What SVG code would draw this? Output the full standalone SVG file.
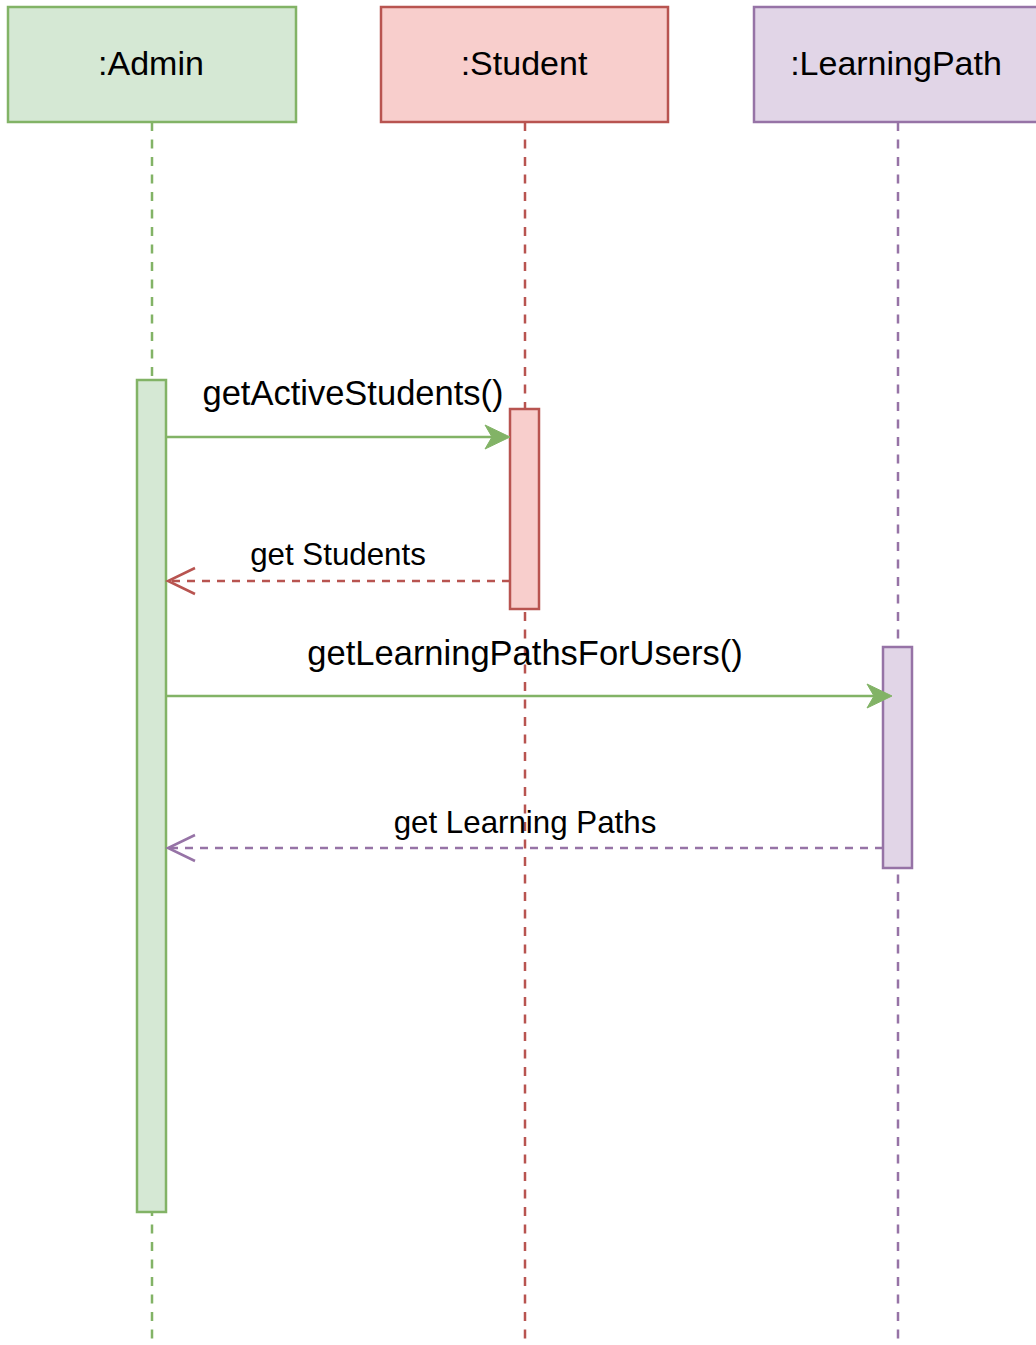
<svg xmlns="http://www.w3.org/2000/svg" width="1036" height="1345" viewBox="0 0 1036 1345">
<style>
text{font-family:"Liberation Sans",Arial,Helvetica,sans-serif;fill:#000;text-anchor:middle}
.hd{font-size:34px}
.lb{font-size:34.5px}
.rt{font-size:31.3px}
.life{fill:none;stroke-width:2.5;stroke-dasharray:9 8.5}
.g{stroke:#82b366}
.r{stroke:#b85450}
.p{stroke:#9673a6}
.gf{fill:#d5e8d4}
.rf{fill:#f8cecc}
.pf{fill:#e1d5e7}
.box{stroke-width:2.5}
.msg{fill:none;stroke-width:2.5}
.ret{fill:none;stroke-width:2.5;stroke-dasharray:8 7}
</style>
<rect width="1036" height="1345" fill="#fff"/>
<g id="lifelines">
<line class="life g" x1="152" y1="122" x2="152" y2="1345"/>
<line class="life r" x1="525" y1="122" x2="525" y2="1345"/>
<line class="life p" x1="898" y1="122" x2="898" y2="1345"/>
</g>
<g id="admin">
<rect class="box gf g" x="8" y="7" width="288" height="115"/>
<text class="hd" x="151" y="75">:Admin</text>
</g>
<g id="student">
<rect class="box rf r" x="381" y="7" width="287" height="115"/>
<text class="hd" x="524" y="75">:Student</text>
</g>
<g id="learningpath">
<rect class="box pf p" x="754" y="7" width="290" height="115"/>
<text class="hd" x="896" y="75">:LearningPath</text>
</g>
<g id="admin-activation">
<rect class="box gf g" x="137" y="380" width="29" height="832"/>
</g>
<g id="student-activation">
<rect class="box rf r" x="510" y="409" width="29" height="200"/>
</g>
<g id="lp-activation">
<rect class="box pf p" x="883" y="647" width="29" height="221"/>
</g>
<g id="connectors">
<line class="msg g" x1="166" y1="437" x2="500" y2="437"/>
<path d="M510 437 L485 425 L492 437 L485 449 Z" fill="#82b366" stroke="#82b366" stroke-width="1"/>
<text class="lb" x="353" y="405">getActiveStudents()</text>

<line class="ret r" x1="510" y1="581" x2="168" y2="581"/>
<path class="msg r" d="M195 568 L168 581 L195 594"/>
<text class="rt" x="338" y="565">get Students</text>

<line class="msg g" x1="166" y1="696" x2="882" y2="696"/>
<path d="M892 696 L867 684 L874 696 L867 708 Z" fill="#82b366" stroke="#82b366" stroke-width="1"/>
<text class="lb" x="525" y="665">getLearningPathsForUsers()</text>

<line class="ret p" x1="883" y1="848" x2="168" y2="848"/>
<path class="msg p" d="M195 835 L168 848 L195 861"/>
<text class="rt" x="525" y="833">get Learning Paths</text>
</g>
</svg>
